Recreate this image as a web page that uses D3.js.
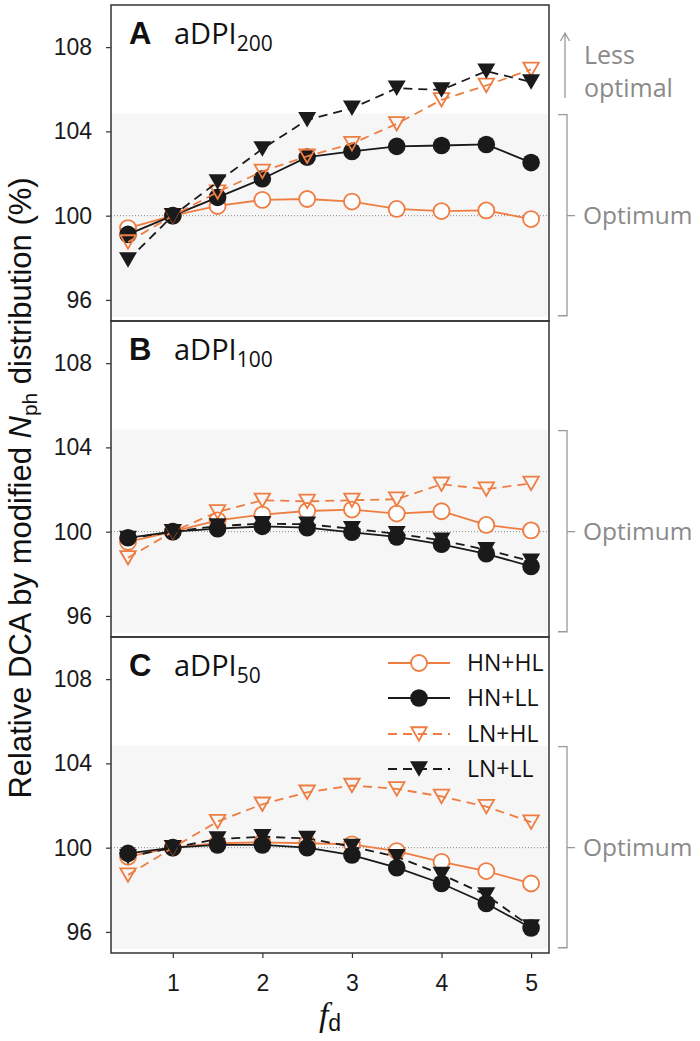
<!DOCTYPE html>
<html><head><meta charset="utf-8">
<script src="https://cdn.jsdelivr.net/npm/d3@7"></script>
<style>body{margin:0;background:#fff} svg{display:block}</style>
</head><body><svg id="c" width="700" height="1041"></svg>
<script>
// ---------- data ----------
const fd = [0.5, 1, 1.5, 2, 2.5, 3, 3.5, 4, 4.5, 5];
const panelLetters = ["A", "B", "C"];
const panelSubs = ["200", "100", "50"];
const seriesNames = ["HN+HL", "HN+LL", "LN+HL", "LN+LL"];
const yTicks = [96, 100, 104, 108];
const xTicks = [1, 2, 3, 4, 5];

const A_HNHL = [99.41, 100, 100.46, 100.75, 100.79, 100.67, 100.32, 100.22, 100.25, 99.84];
const A_HNLL = [99.11, 100, 100.87, 101.75, 102.78, 103.05, 103.29, 103.33, 103.38, 102.52];
const A_LNHL = [98.75, 100, 101.12, 102.1, 102.82, 103.42, 104.36, 105.5, 106.18, 106.94];
const A_LNLL = [97.9, 100, 101.6, 103.17, 104.55, 105.1, 106.05, 105.97, 106.86, 106.35];

const B_HNHL = [99.51, 100, 100.54, 100.81, 100.98, 101.05, 100.86, 100.97, 100.32, 100.06];
const B_HNLL = [99.71, 100, 100.14, 100.25, 100.19, 99.97, 99.75, 99.4, 98.95, 98.35];
const B_LNHL = [98.76, 100, 100.94, 101.49, 101.44, 101.49, 101.54, 102.25, 102.02, 102.29];
const B_LNLL = [99.67, 100, 100.27, 100.38, 100.35, 100.14, 99.9, 99.59, 99.14, 98.6];

const C_HNHL = [99.57, 100, 100.21, 100.25, 100.21, 100.16, 99.84, 99.33, 98.89, 98.3];
const C_HNLL = [99.73, 100, 100.13, 100.13, 100.0, 99.65, 99.05, 98.3, 97.35, 96.19];
const C_LNHL = [98.7, 100, 101.24, 102.06, 102.63, 102.95, 102.79, 102.43, 101.95, 101.21];
const C_LNLL = [99.57, 100, 100.41, 100.52, 100.44, 100.05, 99.57, 98.73, 97.75, 96.24];

const panelData = [
  [A_HNHL, A_HNLL, A_LNHL, A_LNLL],
  [B_HNHL, B_HNLL, B_LNHL, B_LNLL],
  [C_HNHL, C_HNLL, C_LNHL, C_LNLL]
];

// ---------- styles ----------
const ORANGE = "#ee7d42", BLACK = "#1a1a1a", GRAY = "#8a8a8a";
const sStyle = [
  {color: ORANGE, dash: null, shape: "circle", fill: false},
  {color: BLACK, dash: null, shape: "circle", fill: true},
  {color: ORANGE, dash: "9,6", shape: "tri", fill: false},
  {color: BLACK, dash: "9,6", shape: "tri", fill: true}
];

const svg = d3.select("#c");
const x = d3.scaleLinear().domain([0.31, 5.2]).range([111, 549]);
const panelTop = [5, 321, 637];
const panelH = 316;
const sansA = "'Liberation Sans', Arial, sans-serif";
const sansO = "'Open Sans', sans-serif";

function triPath(w, h) {
  return `M0,${h/2}L${-w/2},${-h/2}L${w/2},${-h/2}Z`;
}
function drawMarker(g, st, cx, cy) {
  if (st.shape === "circle") {
    if (st.fill) g.append("circle").attr("cx", cx).attr("cy", cy).attr("r", 8.8).attr("fill", st.color);
    else g.append("circle").attr("cx", cx).attr("cy", cy).attr("r", 8).attr("fill", "#fff").attr("stroke", st.color).attr("stroke-width", 1.8);
  } else {
    if (st.fill) g.append("path").attr("d", triPath(18, 15.5)).attr("transform", `translate(${cx},${cy})`).attr("fill", st.color);
    else g.append("path").attr("d", triPath(15.5, 13.5)).attr("transform", `translate(${cx},${cy})`).attr("fill", "none").attr("stroke", st.color).attr("stroke-width", 1.8);
  }
}

panelLetters.forEach((letter, i) => {
  const top = panelTop[i];
  const y = d3.scaleLinear().domain([95, 110]).range([top + panelH, top]);
  const g = svg.append("g");

  // shaded optimum region
  g.append("rect").attr("x", 111).attr("y", y(104.85))
    .attr("width", x(5.185) - 111).attr("height", y(95.2) - y(104.85))
    .attr("fill", "#f6f6f6");

  // dotted reference line at 100
  g.append("line").attr("x1", 111).attr("x2", 549).attr("y1", y(100)).attr("y2", y(100))
    .attr("stroke", "#888").attr("stroke-width", 1).attr("stroke-dasharray", "1,2");

  // series
  const line = d3.line().x((d, k) => x(fd[k])).y(d => y(d));
  panelData[i].forEach((vals, s) => {
    const st = sStyle[s];
    const sg = g.append("g");
    sg.append("path").attr("d", line(vals)).attr("fill", "none")
      .attr("stroke", st.color).attr("stroke-width", 1.8)
      .attr("stroke-dasharray", st.dash);
    vals.forEach((v, k) => drawMarker(sg, st, x(fd[k]), y(v)));
  });

  // border
  g.append("rect").attr("x", 111).attr("y", top).attr("width", 438).attr("height", panelH)
    .attr("fill", "none").attr("stroke", "#333").attr("stroke-width", 1.5);

  // y axis
  const ax = g.append("g").attr("transform", "translate(111,0)")
    .call(d3.axisLeft(y).tickValues(yTicks).tickSize(5).tickPadding(14).tickFormat(d3.format("d")));
  ax.select(".domain").remove();
  ax.selectAll(".tick line").attr("stroke", "#333").attr("stroke-width", 1.2);
  ax.selectAll(".tick text").attr("font-family", sansA).attr("font-size", 23).attr("fill", "#1a1a1a");

  // panel label
  g.append("text").attr("x", 129).attr("y", top + 38.5).attr("font-family", sansA)
    .attr("font-weight", "bold").attr("font-size", 31).attr("fill", "#111").text(letter);
  const t = g.append("text").attr("x", 174).attr("y", top + 38.5).attr("font-family", sansO)
    .attr("font-size", 29).attr("fill", "#111");
  t.append("tspan").text("aDPI");
  t.append("tspan").attr("font-size", 21).attr("dy", 7.5).text(panelSubs[i]);

  // optimum bracket
  const bx = 567;
  g.append("path")
    .attr("d", `M558,${y(104.8)}H${bx}V${y(95.25)}H558M${bx},${y(100)}H575`)
    .attr("fill", "none").attr("stroke", "#999").attr("stroke-width", 1.3);
  g.append("text").attr("x", 583).attr("y", y(100)).attr("dy", "0.36em")
    .attr("font-family", sansO).attr("font-size", 24.5).attr("fill", GRAY).text("Optimum");
});

// "Less optimal" annotation (panel A)
svg.append("path").attr("d", "M565,98V33M560.5,41L565,33L569.5,41")
  .attr("fill", "none").attr("stroke", "#999").attr("stroke-width", 1.3);
svg.append("text").attr("x", 584).attr("y", 64).attr("font-family", sansO)
  .attr("font-size", 25).attr("fill", GRAY).text("Less");
svg.append("text").attr("x", 584).attr("y", 97).attr("font-family", sansO)
  .attr("font-size", 25).attr("fill", GRAY).text("optimal");

// x axis on bottom panel
const xa = svg.append("g").attr("transform", `translate(0,${panelTop[2] + panelH})`)
  .call(d3.axisBottom(x).tickValues(xTicks).tickSize(5).tickPadding(17).tickFormat(d3.format("d")));
xa.select(".domain").remove();
xa.selectAll(".tick line").attr("stroke", "#333").attr("stroke-width", 1.2);
xa.selectAll(".tick text").attr("font-family", sansA).attr("font-size", 23).attr("fill", "#1a1a1a");

// x title
const xt = svg.append("text").attr("x", 330).attr("y", 1026).attr("text-anchor", "middle").attr("fill", "#111");
xt.append("tspan").attr("font-family", "'Liberation Serif', serif").attr("font-style", "italic").attr("font-size", 34).text("f");
xt.append("tspan").attr("font-family", sansA).attr("font-size", 23).attr("dy", 5).text("d");

// y title
const yt = svg.append("text").attr("transform", "translate(31,488) rotate(-90)")
  .attr("text-anchor", "middle").attr("font-family", sansA).attr("font-size", 31).attr("fill", "#111");
yt.append("tspan").text("Relative DCA by modified ");
yt.append("tspan").attr("font-style", "italic").text("N");
yt.append("tspan").attr("font-size", 21).attr("dy", 6).text("ph");
yt.append("tspan").attr("dy", -6).text(" distribution (%)");

// legend in panel C
const legY = [663, 698, 734, 769];
seriesNames.forEach((name, s) => {
  const st = sStyle[s];
  const lg = svg.append("g");
  lg.append("line").attr("x1", 388).attr("x2", 450).attr("y1", legY[s]).attr("y2", legY[s])
    .attr("stroke", st.color).attr("stroke-width", 1.8).attr("stroke-dasharray", st.dash);
  drawMarker(lg, st, 419, legY[s]);
  lg.append("text").attr("x", 467).attr("y", legY[s]).attr("dy", "0.36em")
    .attr("font-family", sansO).attr("font-size", 23).attr("fill", "#111").text(name);
});
</script>
</body></html>
